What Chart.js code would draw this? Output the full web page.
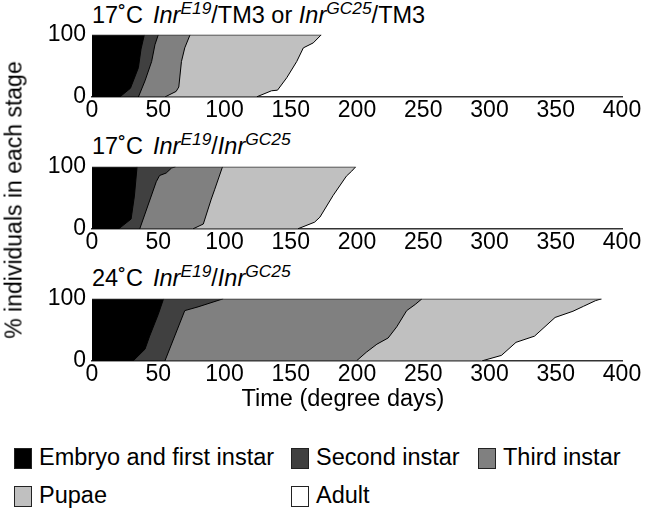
<!DOCTYPE html>
<html>
<head>
<meta charset="utf-8">
<script src="https://cdn.jsdelivr.net/npm/chart.js@4.4.1/dist/chart.umd.min.js"></script>
<style>
  body { margin: 0; width: 646px; height: 508px; position: relative; overflow: hidden;
         background: #fff; color: #000; font-family: "Liberation Sans", Arial, sans-serif; }
  canvas { position: absolute; left: 0; }
  .ttl { position: absolute; left: 92px; font-size: 23.5px; line-height: 23px; white-space: nowrap; }
  .ttl sup { font-size: 0.74em; vertical-align: 0; position: relative; top: -0.5em; }
  .gap { display: inline-block; width: 10px; }
  #ytitle { position: absolute; left: 14px; top: 200px; font-size: 23px; white-space: nowrap;
            transform: translate(-50%, -50%) rotate(-90deg); }
  #xtitle { position: absolute; left: 343px; top: 385px; font-size: 23.5px; white-space: nowrap;
            transform: translateX(-50%); }
  .leg { position: absolute; font-size: 23.5px; line-height: 23px; white-space: nowrap; }
  .leg span { display: inline-block; width: 16px; height: 19px; border: 1.5px solid #222;
              vertical-align: -4px; margin-right: 7px; }
</style>
</head>
<body>

<div class="ttl" style="top:4px">17˚C<span class="gap"></span><i>Inr</i><sup><i>E19</i></sup>/TM3 or <i>Inr</i><sup><i>GC25</i></sup>/TM3</div>
<canvas id="chart1" width="646" height="112" style="top:15px"></canvas>

<div class="ttl" style="top:135px">17˚C<span class="gap"></span><i>Inr</i><sup><i>E19</i></sup>/<i>Inr</i><sup><i>GC25</i></sup></div>
<canvas id="chart2" width="646" height="112" style="top:147px"></canvas>

<div class="ttl" style="top:267px">24˚C<span class="gap"></span><i>Inr</i><sup><i>E19</i></sup>/<i>Inr</i><sup><i>GC25</i></sup></div>
<canvas id="chart3" width="646" height="112" style="top:279px"></canvas>

<div id="ytitle">% individuals in each stage</div>
<div id="xtitle">Time (degree days)</div>
<div id="legend"></div>

<script>
/* =====================
   DATA
   each boundary = [degree days, % individuals],
   from 0% (bottom) to 100% (top)
===================== */
const stages = ["Embryo and first instar", "Second instar", "Third instar", "Pupae", "Adult"];

// 17°C  InrE19/TM3 or InrGC25/TM3
const het17Embryo = [[21, 0], [29, 14], [35, 47], [37, 77], [39.5, 100]];
const het17Second = [[35, 0], [40, 26], [45, 57], [47.5, 84], [50, 100]];
const het17Third  = [[55, 0], [63.5, 9], [65.5, 16], [67.5, 57], [70, 79], [74, 100]];
const het17Pupae  = [[124, 0], [135.5, 10], [140, 11], [147, 31], [154.5, 57], [159.5, 79], [167, 87], [173, 100]];

// 17°C  InrE19/InrGC25
const trans17Embryo = [[20, 0], [29.5, 16], [32, 53], [34, 100]];
const trans17Second = [[36, 0], [48.5, 76], [51, 86], [56, 90], [60, 98], [63, 100]];
const trans17Third  = [[76, 0], [84, 8], [90, 48], [92.5, 63], [98.5, 100]];
const trans17Pupae  = [[155, 0], [168, 11], [172, 19], [182, 54], [192, 85], [196, 93], [199, 100]];

// 24°C  InrE19/InrGC25
const trans24Embryo = [[31, 0], [40, 19], [43.5, 40], [50, 75], [54, 100]];
const trans24Second = [[55, 0], [70, 81], [80, 87], [99, 100]];
const trans24Third  = [[199.5, 0], [207, 14], [215, 27], [223.5, 37], [230, 55], [237.5, 81], [244, 91], [249, 100]];
const trans24Pupae  = [[294, 0], [309, 9], [320, 30], [334, 40], [349.5, 70], [363, 80], [371, 88], [380, 97], [384.5, 100]];

const X_MIN = 0, X_MAX = 400, X_STEP = 50;
const Y_MIN = 0, Y_MAX = 100;

/* =====================
   STYLE
===================== */
const fills = ["#000000", "#404040", "#808080", "#c0c0c0", "#ffffff"];
const tickFont = { family: "'Liberation Sans', Arial, sans-serif", size: 23 };

/* =====================
   PANELS
===================== */
function makePanel(id, bounds) {
  // each stage = area left of its boundary, filled up to 100%
  const datasets = bounds.map((pts, i) => ({
    label: stages[i],
    data: [{ x: X_MIN, y: Y_MIN }].concat(pts.map(p => ({ x: p[0], y: p[1] }))),
    backgroundColor: fills[i],
    borderColor: "#000",
    borderWidth: 1,
    fill: "end",
    pointRadius: 0,
    tension: 0
  }));

  // thin line along the top of the filled block
  const last = bounds[bounds.length - 1];
  datasets.push({
    label: "top",
    data: [{ x: X_MIN, y: Y_MAX }, { x: last[last.length - 1][0], y: Y_MAX }],
    borderColor: "#333",
    borderWidth: 1.5,
    fill: false,
    pointRadius: 0,
    order: -1
  });

  new Chart(document.getElementById(id), {
    type: "line",
    data: { datasets },
    options: {
      responsive: false,
      animation: false,
      layout: { padding: { top: 16, right: 24, left: 0, bottom: 0 } },
      plugins: { legend: { display: false }, tooltip: { enabled: false } },
      scales: {
        x: {
          type: "linear", min: X_MIN, max: X_MAX,
          ticks: { stepSize: X_STEP, font: tickFont, color: "#000", padding: 0, maxRotation: 0 },
          grid: { display: false, drawTicks: false },
          border: { display: true, color: "#333", width: 1.5 },
          afterFit: s => { s.height = 30; }
        },
        y: {
          min: Y_MIN, max: Y_MAX,
          ticks: { stepSize: Y_MAX - Y_MIN, font: tickFont, color: "#000", padding: 6 },
          grid: { display: false, drawTicks: false },
          border: { display: false },
          afterFit: s => { s.width = 92; }
        }
      }
    }
  });
}

makePanel("chart1", [het17Embryo, het17Second, het17Third, het17Pupae]);
makePanel("chart2", [trans17Embryo, trans17Second, trans17Third, trans17Pupae]);
makePanel("chart3", [trans24Embryo, trans24Second, trans24Third, trans24Pupae]);

/* =====================
   LEGEND
===================== */
const legendSpots = [[14, 446], [291, 446], [478, 446], [14, 484], [291, 484]];
document.getElementById("legend").innerHTML = stages.map((s, i) => `
  <div class="leg" style="left:${legendSpots[i][0]}px;top:${legendSpots[i][1]}px">
    <span style="background:${fills[i]}"></span>${s}
  </div>`).join("");
</script>
</body>
</html>
